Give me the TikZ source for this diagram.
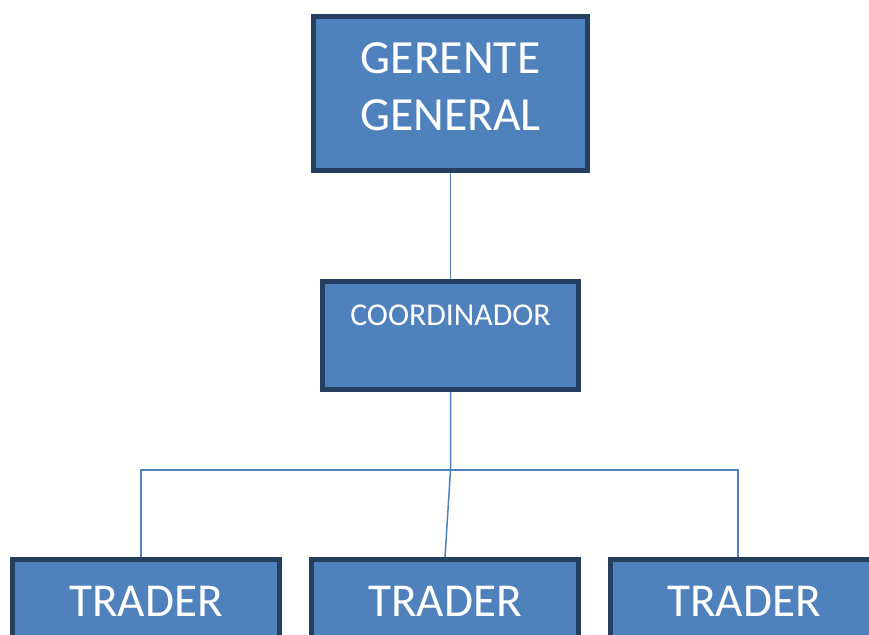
\documentclass[tikz,border=0pt]{standalone}
\usepackage{fontspec}
\setmainfont{Carlito}
\definecolor{azul}{HTML}{4F81BD}
\definecolor{borde}{HTML}{243F60}
\tikzset{
  cargo/.style={draw=borde, fill=azul, line width=2.5pt, text=white, inner sep=0pt},
  enlace/.style={draw=azul, line width=0.75pt}
}
\begin{document}
\begin{tikzpicture}[x=0.5pt, y=-0.5pt, line join=miter]
  \clip (0,0) rectangle (869,634);
  % cargos
  \node[cargo, minimum width=137pt, text height=28.25pt, text depth=48.75pt,
        font=\fontsize{23.8}{28.5}\selectfont] (gg) at (450.5,93.5)
        {\begin{tabular}[t]{@{}c@{}}GERENTE\\GENERAL\end{tabular}};
  \node[cargo, minimum width=128pt, text height=21.75pt, text depth=32.25pt,
        font=\fontsize{15.9}{18}\selectfont] (co) at (450.5,335.5) {COORDINADOR};
  \foreach \n/\x in {t1/146, t2/445, t3/744}
    \node[cargo, minimum width=133.5pt, text height=28.25pt, text depth=32pt,
          font=\fontsize{23.6}{27}\selectfont] (\n) at (\x,619.75) {TRADER};
  % lineas
  \coordinate (bus) at (450.5,470);
  \draw[enlace] (gg.south) -- (co.north);
  \draw[enlace] (co.south) -- (bus) -- (t2.north);
  \draw[enlace] ([xshift=-2.5pt]t1.north) |- (bus) -| ([xshift=-3pt]t3.north);
\end{tikzpicture}
\end{document}
